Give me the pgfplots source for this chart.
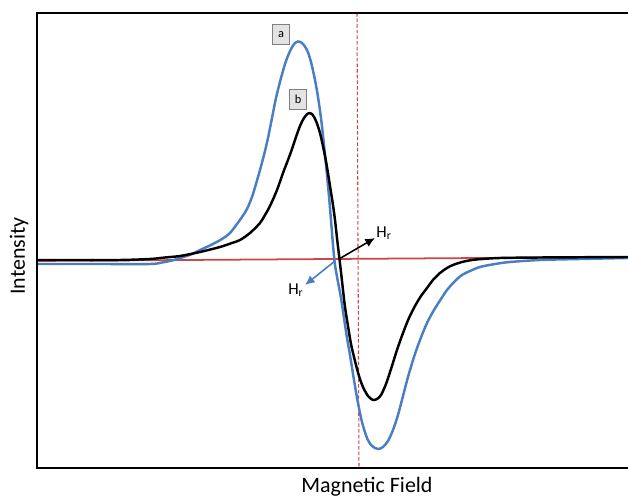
\documentclass[border=0pt]{standalone}
\usepackage{pgfplots}
\pgfplotsset{compat=1.18}
\usepackage{fontspec}
\setmainfont{Carlito}
\usetikzlibrary{arrows.meta}
\definecolor{cblue}{RGB}{74,126,196}
\definecolor{cred}{RGB}{205,70,70}
\begin{document}
\begin{tikzpicture}
\begin{axis}[
  scale only axis,
  width=11.82cm, height=9.1cm,
  xmin=37, xmax=628, ymin=13, ymax=468,
  y dir=reverse,
  hide axis,
  clip=false,
]
% red baseline and dashed marker
\addplot[cred, line width=1pt] coordinates {(37,261) (628,257)};
\addplot[cred, line width=0.6pt, dash pattern=on 2pt off 1.2pt] coordinates {(357,13) (359,468)};
% curve a (blue)
\addplot[cblue, line width=1.4pt, smooth, tension=0.5] coordinates {
(37,264) (100,264) (150,264) (162,262.5) (172,260.5) (182,257.5) (192,254) (200,250)
(211,245) (222,239) (230,233) (237,224) (242,217) (247,209) (252,197) (256,184)
(260,170) (264,155) (268,138) (272,118) (276,98) (281,78) (286,61) (291,49)
(295,43) (298,41.5) (302,43) (307,50) (311,62)
(315,80) (318,97) (321,118) (324,145) (327,175) (330,208) (333,245) (335,265)
(338,282) (341,298) (344,318) (347,338) (350,355) (354,380) (358,403) (362,422)
(367,438) (372,446) (378,449) (383,447) (388,441) (393,430) (398,415) (403,396)
(408,377) (414,357) (420,340) (427,323) (434,310) (441,299) (447,290) (455,281)
(462,275) (470,271) (480,267) (495,264) (510,262) (540,260) (580,259) (628,258)};
% curve b (black)
\addplot[black, line width=1.4pt, smooth, tension=0.5] coordinates {
(37,260) (80,260) (120,260) (150,259) (165,257.5) (180,256) (200,252)
(220,247) (232,243) (240,240) (250,233) (260,223) (265,215) (270,206) (277,190)
(283,173) (288,160) (292,149) (296,137) (300,126) (304,118) (308,113.5)
(312,114) (316,121) (320,133) (324,151) (327,167) (330,186) (333,205) (335,220) (337,238)
(339,255) (341,272) (343,290) (345,307) (348,326) (351,344) (355,361) (359,376)
(363,387) (368,396) (373,400) (377,399) (381,395) (386,384) (391,369) (397,350)
(403,333) (409,318) (415,306) (421,296) (427,288) (433,280) (440,273) (447,268)
(453,265) (462,262) (472,260) (482,259) (500,258) (540,257.5) (628,257)};
% arrows
\addplot[black, line width=0.9pt, -{Latex[length=5.5pt,width=5pt]}] coordinates {(339,259) (375,238)};
\addplot[cblue, line width=0.9pt, -{Latex[length=5.5pt,width=5pt]}] coordinates {(335,261) (305,285)};
\node[anchor=west, inner sep=0pt, font=\fontsize{9.5}{11}\selectfont] at (axis cs:376,233) {H$_{\mathrm{r}}$};
\node[anchor=center, inner sep=0pt, font=\fontsize{9.5}{11}\selectfont] at (axis cs:296,290) {H$_{\mathrm{r}}$};
% boxed labels
\node[draw=gray, fill=gray!22, line width=0.5pt, minimum width=10pt, minimum height=11.5pt, inner sep=0pt, font=\fontsize{7}{8}\selectfont] at (axis cs:281,34.5) {a};
\node[draw=gray, fill=gray!22, line width=0.5pt, minimum width=10pt, minimum height=11.5pt, inner sep=0pt, font=\fontsize{7}{8}\selectfont] at (axis cs:298,99.5) {b};
% frame (open on the right, cut by the picture edge)
\draw[line width=1.7pt] (axis cs:640,13) -- (axis cs:37,13) -- (axis cs:37,468) -- (axis cs:640,468);
% axis titles
\node[anchor=base, inner sep=0pt, font=\fontsize{12.5}{14}\selectfont] at (axis cs:367,493) {Magnetic Field};
\node[rotate=90, inner sep=0pt, font=\fontsize{12.5}{14}\selectfont] at (axis cs:19,256) {Intensity};
\coordinate (BL) at (axis cs:0,496);
\coordinate (TR) at (axis cs:628,0);
\end{axis}
\pgfresetboundingbox
\useasboundingbox (BL) rectangle (TR);
\end{tikzpicture}
\end{document}
